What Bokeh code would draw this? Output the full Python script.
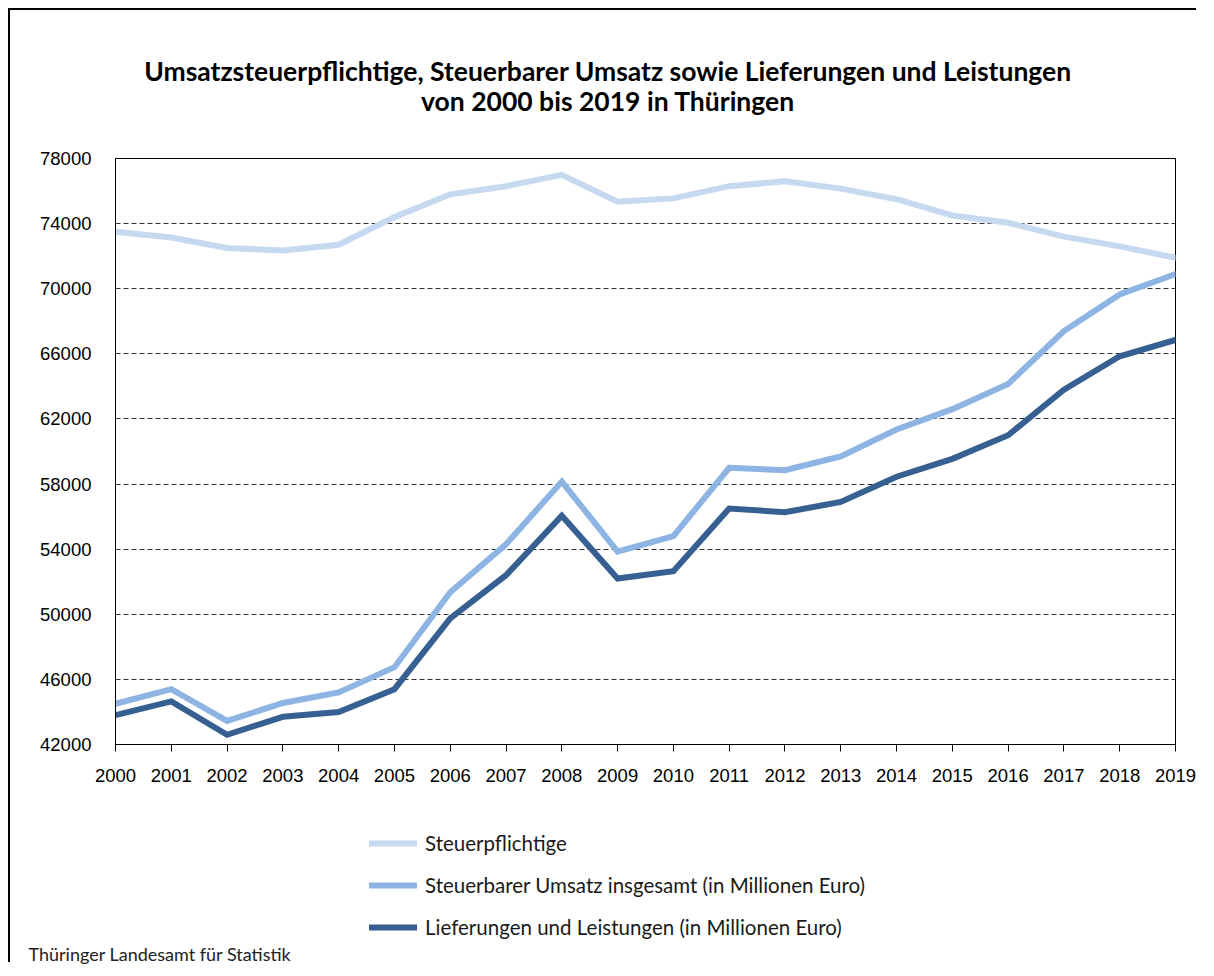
from bokeh.plotting import figure
from bokeh.layouts import column
from bokeh.models import Label, Legend, LegendItem, FixedTicker, NumeralTickFormatter, Range1d, Title
from bokeh.embed import file_html
from bokeh.resources import INLINE

# ---- data ----
years = [2000, 2001, 2002, 2003, 2004, 2005, 2006, 2007, 2008, 2009,
         2010, 2011, 2012, 2013, 2014, 2015, 2016, 2017, 2018, 2019]
steuerpflichtige = [73500, 73150, 72500, 72350, 72700, 74400, 75800, 76300, 77000, 75350,
                    75550, 76300, 76600, 76150, 75500, 74500, 74050, 73200, 72600, 71900]
umsatz = [44500, 45400, 43450, 44550, 45200, 46750, 51350, 54300, 58150, 53850,
          54800, 59000, 58850, 59700, 61350, 62600, 64150, 67400, 69650, 70900]
lieferungen = [43800, 44650, 42600, 43700, 44000, 45400, 49750, 52400, 56050, 52200,
               52650, 56500, 56270, 56900, 58450, 59550, 61000, 63800, 65850, 66850]
y_ticks = [42000, 46000, 50000, 54000, 58000, 62000, 66000, 70000, 74000, 78000]
series_labels = ["Steuerpflichtige",
                 "Steuerbarer Umsatz insgesamt (in Millionen Euro)",
                 "Lieferungen und Leistungen (in Millionen Euro)"]
title_lines = ["Umsatzsteuerpflichtige, Steuerbarer Umsatz sowie Lieferungen und Leistungen",
               "von 2000 bis 2019 in Thüringen"]
source_text = "Thüringer Landesamt für Statistik"

colors = ["#C6D9F1", "#8EB4E3", "#376092"]

W = 1196
TOP_H = 128
MAIN_H = 656
BOT_H = 170
BL, BR = 105, 31          # left / right borders around the plot frame


def blank(h):
    # strip whose frame spans the same columns as the chart frame;
    # x in page pixels (frame spans page x 115..1175)
    f = figure(width=W, height=h, x_range=Range1d(115, 1175), y_range=Range1d(10 + h, 10),
               x_axis_type=None, y_axis_type=None, output_backend="svg",
               toolbar_location=None, title=None,
               min_border_left=BL, min_border_right=BR, min_border_top=0, min_border_bottom=0)
    f.outline_line_color = None
    f.background_fill_color = "white"
    f.border_fill_color = "white"
    return f


# ---- title strip ----
p_top = blank(TOP_H)
for txt, base in zip(title_lines, [70, 100]):
    p_top.add_layout(Label(x=607.5, y=base, text=txt, text_align="center",
                           text_baseline="alphabetic", text_font="Lato",
                           text_font_style="bold", text_font_size="26.5px",
                           text_color="black"))

# ---- main chart ----
p = figure(width=W, height=MAIN_H,
           x_range=Range1d(2000, 2019), y_range=Range1d(42000, 78000),
           output_backend="svg", toolbar_location=None, title=None,
           min_border_left=BL, min_border_top=20,
           min_border_right=BR, min_border_bottom=50)
p.background_fill_color = "white"
p.border_fill_color = "white"
p.outline_line_color = "black"
p.outline_line_width = 1
p.outline_line_alpha = 1

for vals, c in zip([steuerpflichtige, umsatz, lieferungen], colors):
    p.line(years, vals, line_color=c, line_width=6, line_join="miter", line_cap="round")

p.xaxis.ticker = FixedTicker(ticks=years)
p.yaxis.ticker = FixedTicker(ticks=y_ticks)
p.yaxis.formatter = NumeralTickFormatter(format="0")
for ax in (p.xaxis, p.yaxis):
    ax.major_label_text_font = "Liberation Sans"
    ax.major_label_text_font_size = "18.5px"
    ax.major_label_text_color = "black"
    ax.axis_line_color = "black"
    ax.axis_line_width = 1
    ax.minor_tick_in = 0
    ax.minor_tick_out = 0
    ax.major_tick_in = 0
    ax.major_tick_line_color = "black"
p.xaxis.major_tick_out = 7
p.xaxis.major_label_standoff = 17
p.yaxis.major_tick_out = 0
p.yaxis.major_label_standoff = 24

p.xgrid.visible = False
p.ygrid.grid_line_color = "#333333"
p.ygrid.grid_line_width = 1
p.ygrid.grid_line_dash = "5 3"

# ---- legend + source strip ----
p_bot = blank(BOT_H)
nan = float("nan")
proxies = [p_bot.line(x=[nan], y=[nan], line_color=c, line_width=6, line_cap="round")
           for c in colors]
legend = Legend(items=[LegendItem(label=l, renderers=[r]) for l, r in zip(series_labels, proxies)],
                location=(254, 1), orientation="vertical",
                glyph_width=48, glyph_height=20, label_height=20, spacing=18,
                label_standoff=8, padding=0, margin=0,
                border_line_alpha=0, background_fill_alpha=0,
                label_text_font="Lato", label_text_font_size="20.5px",
                label_text_color="#1a1a1a")
p_bot.add_layout(legend)
p_bot.add_layout(Title(text=source_text, align="left", offset=-87, standoff=0,
                       text_font="Lato", text_font_size="18px", text_font_style="normal",
                       text_color="#222222"), "below")

layout = column(p_top, p, p_bot, spacing=0, margin=(10, 0, 0, 10),
                styles={"box-shadow": "-2px -2px 0 0 black", "overflow": "hidden",
                        "clip-path": "inset(-2px 10px 0 -2px)"})

open("out.html", "w").write(file_html(layout, INLINE))
